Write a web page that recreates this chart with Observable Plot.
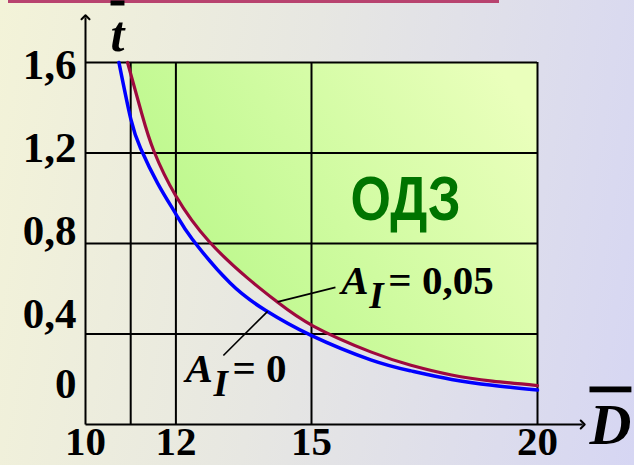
<!DOCTYPE html>
<html><head><meta charset="utf-8">
<script src="https://cdn.jsdelivr.net/npm/d3@7"></script>
<script src="https://cdn.jsdelivr.net/npm/@observablehq/plot@0.6"></script>
<style>
html,body{margin:0;padding:0;width:634px;height:465px;overflow:hidden;}
#wrap{position:relative;width:634px;height:465px;background:linear-gradient(100deg,#f3f3d8 0%,#e7e7e2 45%,#d6d6f3 100%);}
#topline{position:absolute;left:8px;top:0;width:491px;height:3px;background:#b8436f;}
#wrap svg{position:absolute;left:0;top:0;}
</style></head><body><div id="wrap"><div id="topline"></div></div>
<script>
// axis / grid values
const xGrid = [11, 12, 15, 20];
const yGrid = [0.4, 0.8, 1.2, 1.6];
const xTicks = [10, 12, 15, 20];
const xTickLabels = ["10", "12", "15", "20"];
const yTickLabels = ["1,6", "1,2", "0,8", "0,4", "0"];
const yTickLabelAt = [1.587, 1.22, 0.853, 0.486, 0.177];
const xMin = 10, xMax = 20, yMin = 0, yMax = 1.6;
const xArrowEnd = 21, yArrowEnd = 1.8;

// A_I = 0 (blue)
const blueD = [10.74, 11.0, 11.22, 11.6, 12.0, 12.36, 13.2, 13.98, 14.98, 16.31, 17.2, 18.1, 19.0, 20.0];
const blueT = [1.60, 1.352, 1.22, 1.065, 0.93, 0.82, 0.625, 0.505, 0.395, 0.286, 0.237, 0.199, 0.173, 0.152];
// A_I = 0,05 (red)
const redD = [10.93, 11.25, 11.51, 12.0, 12.73, 13.58, 14.24, 15.05, 16.31, 17.2, 18.1, 19.0, 20.0];
const redT = [1.60, 1.37, 1.21, 1.01, 0.81, 0.648, 0.542, 0.434, 0.321, 0.262, 0.219, 0.192, 0.172];

// annotations
const leader05 = {D1: 14.25, t1: 0.542, D2: 15.53, t2: 0.606};
const leader0 = {D1: 13.05, t1: 0.305, D2: 14.03, t2: 0.500};
const label05 = {D: 15.66, t: 0.579, value: "= 0,05"};
const label0 = {D: 12.21, t: 0.186, value: "= 0"};
const regionLabel = {D: 17.08, t: 0.906, text: "ОДЗ"};

const blue = blueD.map((D, i) => ({D, t: blueT[i]}));
const red = redD.map((D, i) => ({D, t: redT[i]}));

const serif = "'Liberation Serif', 'Times New Roman', serif";
const bi = {fontFamily: serif, fontWeight: "bold", fontStyle: "italic", fill: "#000"};

const plot = Plot.plot({
  width: 634, height: 465,
  marginLeft: 85, marginRight: 97, marginTop: 62, marginBottom: 41,
  x: {domain: [xMin, xMax], axis: null},
  y: {domain: [yMin, yMax], axis: null},
  style: {background: "transparent", overflow: "visible"},
  marks: [
    Plot.areaY(red, {x: "D", y1: "t", y2: yMax, fill: "url(#odzFill)", curve: "natural"}),
    Plot.ruleX(xGrid, {stroke: "#000", strokeWidth: 2}),
    Plot.ruleY(yGrid, {stroke: "#000", strokeWidth: 2}),
    Plot.link([0], {x1: xMin, y1: yMin, x2: xArrowEnd, y2: yMin, stroke: "#000", strokeWidth: 2, markerEnd: "arrow"}),
    Plot.link([0], {x1: xMin, y1: yMin, x2: xMin, y2: yArrowEnd, stroke: "#000", strokeWidth: 2, markerEnd: "arrow"}),
    Plot.line(blue, {x: "D", y: "t", stroke: "#0000ff", strokeWidth: 3.5, curve: "natural"}),
    Plot.line(red, {x: "D", y: "t", stroke: "#9e0a3e", strokeWidth: 3.2, curve: "natural"}),
    Plot.link([leader05, leader0], {x1: "D1", y1: "t1", x2: "D2", y2: "t2", stroke: "#000", strokeWidth: 1.6}),
    // tick labels
    Plot.text(xTicks, {x: d => d, y: yMin, text: (d, i) => xTickLabels[i], dy: 1, lineAnchor: "top",
      fontFamily: serif, fontWeight: "bold", fontSize: 41, fill: "#000"}),
    Plot.text(yTickLabels, {x: xMin, y: (d, i) => yTickLabelAt[i], text: d => d, dx: -9, textAnchor: "end",
      lineAnchor: "middle", fontFamily: serif, fontWeight: "bold", fontSize: 43, fill: "#000"}),
    // axis titles
    Plot.text(["t"], {frameAnchor: "top-left", dx: 32, dy: -12, lineAnchor: "bottom", textAnchor: "middle", fontSize: 50, ...bi}),
    Plot.text(["D"], {frameAnchor: "bottom-right", dx: 52, dy: 19, lineAnchor: "bottom", textAnchor: "start", fontSize: 58, ...bi}),
    // curve labels
    Plot.text([label05, label0], {x: "D", y: "t", text: () => "A", textAnchor: "start", lineAnchor: "bottom", fontSize: 41, ...bi}),
    Plot.text([label05, label0], {x: "D", y: "t", text: () => "I", dx: 28, dy: 14, textAnchor: "start", lineAnchor: "bottom", fontSize: 37, ...bi}),
    Plot.text([label05, label0], {x: "D", y: "t", text: "value", dx: 47, textAnchor: "start", lineAnchor: "bottom",
      fontFamily: serif, fontWeight: "bold", fontSize: 41, fill: "#000"}),
    Plot.text([regionLabel], {x: "D", y: "t", text: "text", textAnchor: "middle", lineAnchor: "bottom",
      fontFamily: "'Liberation Sans', Arial, sans-serif", fontWeight: "bold", fontSize: 52, fill: "#007400"})
  ]
});

const svg = d3.select(plot);
const defs = svg.insert("defs", ":first-child");
const grad = defs.append("linearGradient").attr("id", "odzFill")
  .attr("x1", "0").attr("y1", "0.7").attr("x2", "1").attr("y2", "0.2");
grad.append("stop").attr("offset", "0").attr("stop-color", "#b4f784");
grad.append("stop").attr("offset", "1").attr("stop-color", "#eaffbc");

svg.selectAll("text").each(function () {
  const s = this.textContent;
  if (s === "t" || s === "D") d3.select(this).style("text-decoration", "overline");
  if (s === "ОДЗ") {
    const tr = this.getAttribute("transform") || "";
    this.setAttribute("transform", tr + " scale(1,1.22)");
  }
});

document.getElementById("wrap").appendChild(plot);
</script>
</body></html>
